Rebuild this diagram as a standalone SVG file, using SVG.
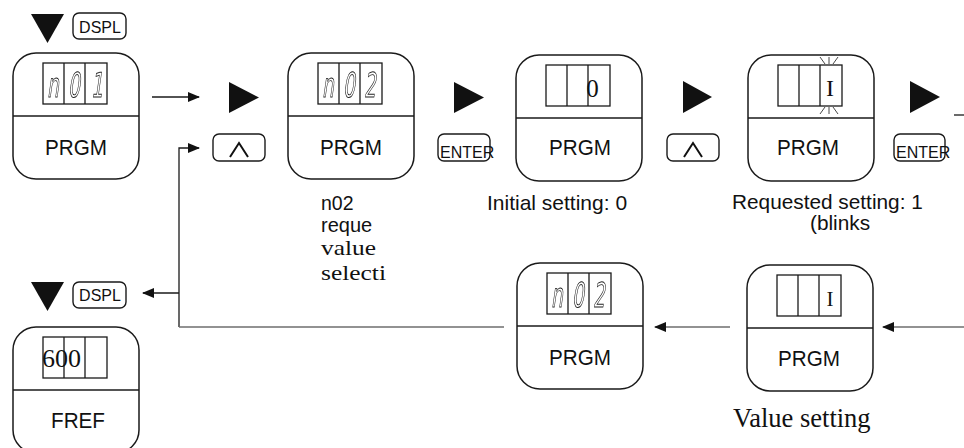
<svg xmlns="http://www.w3.org/2000/svg" width="964" height="448" viewBox="0 0 964 448">
  <style>
    .frame { fill: none; stroke: #1a1a1a; stroke-width: 1.5; }
    .disp { fill: none; stroke: #1a1a1a; stroke-width: 1.3; }
    .key { fill: #fff; stroke: #1a1a1a; stroke-width: 1.4; }
    .tri { fill: #111; }
    .sans { font-family: "Liberation Sans", Arial, sans-serif; fill: #111; }
    .serif { font-family: "Liberation Serif", "Times New Roman", serif; fill: #111; }
    .mode { font-size: 22px; text-anchor: middle; }
    .seg { font-family: "DejaVu Sans", sans-serif; font-size: 34px; fill: none; stroke: #1a1a1a; stroke-width: 0.9; text-anchor: middle; }
    .lcd { filter: url(#flat); }
    .keytxt { font-size: 16px; }
    .caret { fill: none; stroke: #111; stroke-width: 2; }
    .ray { stroke: #333; stroke-width: 0.9; }
    .conn { fill: none; stroke: #1a1a1a; stroke-width: 1.3; }
    .conn-g { fill: none; stroke: #6e6e6e; stroke-width: 1.5; }
  </style>
  <defs>
    <!-- render LCD digits in a plain greyscale layer -->
    <filter id="flat" x="0" y="0" width="1" height="1">
      <feOffset dx="0" dy="0"/>
    </filter>
    <marker id="ah" markerUnits="userSpaceOnUse" markerWidth="12" markerHeight="10" refX="11" refY="5" orient="auto">
      <path d="M0,0 L12,5 L0,10 z" fill="#111"/>
    </marker>
    <!-- operator panel body: frame, divider and 3-cell display -->
    <g id="panel">
      <rect class="frame" x="0" y="0" width="126" height="126" rx="23"/>
      <line class="frame" x1="0" y1="63" x2="126" y2="63"/>
      <rect class="disp" x="30" y="10" width="64" height="41"/>
      <line class="disp" x1="51" y1="10" x2="51" y2="51"/>
      <line class="disp" x1="72" y1="10" x2="72" y2="51"/>
    </g>
  </defs>

  <!-- key symbols -->
  <g id="keys">
    <polygon class="tri" points="31,14 64,14 47.5,43"/>
    <rect class="key" x="73" y="13" width="53" height="26" rx="6"/>
    <text class="sans keytxt" x="100" y="33" text-anchor="middle">DSPL</text>

    <polygon class="tri" points="229,82 259,97.5 229,113"/>
    <rect class="key" x="213" y="134" width="52" height="27" rx="6"/>
    <polyline class="caret" points="230,157 239,143 248,157"/>

    <polygon class="tri" points="454,82 484,97.5 454,113"/>
    <rect class="key" x="438" y="134" width="52" height="27" rx="6"/>
    <text class="sans keytxt" x="440" y="158">ENTER</text>

    <polygon class="tri" points="683,81 712,97 683,113"/>
    <rect class="key" x="667" y="134" width="52" height="27" rx="6"/>
    <polyline class="caret" points="684,157 693,143 702,157"/>

    <polygon class="tri" points="910,81 940,97 910,113"/>
    <rect class="key" x="894" y="134" width="51" height="27" rx="6"/>
    <text class="sans keytxt" x="896" y="158">ENTER</text>

    <polygon class="tri" points="31,282 64,282 47.5,311"/>
    <rect class="key" x="73" y="282" width="53" height="26" rx="6"/>
    <text class="sans keytxt" x="100" y="301" text-anchor="middle">DSPL</text>
  </g>

  <!-- n01 / PRGM -->
  <g id="node-n01" transform="translate(13,53)">
    <use href="#panel"/>
    <g class="lcd">
      <text class="seg" transform="translate(40,44) skewX(-8) scale(0.55,1)">n</text>
      <text class="seg" transform="translate(61,44) skewX(-8) scale(0.55,1)">0</text>
      <text class="seg" transform="translate(84,44) skewX(-8) scale(0.55,1)">1</text>
    </g>
    <text class="sans mode" x="63" y="102" textLength="62" lengthAdjust="spacingAndGlyphs">PRGM</text>
  </g>

  <!-- n02 / PRGM -->
  <g id="node-n02" transform="translate(288,53)">
    <use href="#panel"/>
    <g class="lcd">
      <text class="seg" transform="translate(40,44) skewX(-8) scale(0.55,1)">n</text>
      <text class="seg" transform="translate(61,44) skewX(-8) scale(0.55,1)">0</text>
      <text class="seg" transform="translate(82,44) skewX(-8) scale(0.55,1)">2</text>
    </g>
    <text class="sans mode" x="63" y="102" textLength="62" lengthAdjust="spacingAndGlyphs">PRGM</text>
  </g>

  <!-- initial value 0 -->
  <g id="node-initial" transform="translate(517,54)">
    <use href="#panel" transform="translate(-1,1)"/>
    <text class="serif" x="75.5" y="43" font-size="25" text-anchor="middle">0</text>
    <text class="sans mode" x="63" y="101" textLength="62" lengthAdjust="spacingAndGlyphs">PRGM</text>
  </g>

  <!-- requested value 1, blinking -->
  <g id="node-requested" transform="translate(745,53)">
    <use href="#panel" transform="translate(3,2)"/>
    <text class="serif" x="85" y="43" font-size="24" text-anchor="middle">I</text>
    <line class="ray" x1="75" y1="4" x2="80" y2="11"/>
    <line class="ray" x1="84" y1="4" x2="84" y2="11"/>
    <line class="ray" x1="93" y1="4" x2="88" y2="11"/>
    <line class="ray" x1="80" y1="54" x2="75" y2="61"/>
    <line class="ray" x1="84" y1="54" x2="84" y2="61"/>
    <line class="ray" x1="88" y1="54" x2="93" y2="61"/>
    <text class="sans mode" x="63" y="102" textLength="62" lengthAdjust="spacingAndGlyphs">PRGM</text>
  </g>

  <!-- value written: 1 / PRGM -->
  <g id="node-value" transform="translate(746,264)">
    <use href="#panel" transform="translate(1,1)"/>
    <text class="serif" x="84" y="42" font-size="21" text-anchor="middle">I</text>
    <text class="sans mode" x="63" y="102" textLength="62" lengthAdjust="spacingAndGlyphs">PRGM</text>
  </g>

  <!-- back to n02 / PRGM -->
  <g id="node-n02-return" transform="translate(517,263)">
    <use href="#panel"/>
    <g class="lcd">
      <text class="seg" transform="translate(40,44) skewX(-8) scale(0.55,1)">n</text>
      <text class="seg" transform="translate(61,44) skewX(-8) scale(0.55,1)">0</text>
      <text class="seg" transform="translate(82,44) skewX(-8) scale(0.55,1)">2</text>
    </g>
    <text class="sans mode" x="63" y="102" textLength="62" lengthAdjust="spacingAndGlyphs">PRGM</text>
  </g>

  <!-- frequency reference display -->
  <g id="node-fref" transform="translate(15,328)">
    <use href="#panel" transform="translate(-2,-1)"/>
    <text class="serif" x="27" y="39" font-size="26">600</text>
    <text class="sans mode" x="63" y="100" textLength="54" lengthAdjust="spacingAndGlyphs">FREF</text>
  </g>

  <!-- captions -->
  <g id="captions">
    <text class="sans" x="321" y="210" font-size="19.5">n02</text>
    <text class="sans" x="321" y="232" font-size="20">reque</text>
    <text class="serif" x="321" y="255" font-size="22" textLength="55" lengthAdjust="spacingAndGlyphs">value</text>
    <text class="serif" x="321" y="280" font-size="22" textLength="65" lengthAdjust="spacingAndGlyphs">selecti</text>
    <text class="sans" x="487" y="210" font-size="21">Initial setting: 0</text>
    <text class="sans" x="732" y="209" font-size="20.8">Requested setting: 1</text>
    <text class="sans" x="810" y="230" font-size="20.8">(blinks</text>
    <text class="serif" x="733" y="427" font-size="26.5">Value setting</text>
  </g>

  <!-- connectors -->
  <g id="connectors">
    <line class="conn" x1="152" y1="97" x2="199" y2="97" marker-end="url(#ah)"/>
    <line class="conn" x1="954" y1="115" x2="964" y2="115"/>
    <polyline class="conn" points="179,327 179,148 199,148" marker-end="url(#ah)"/>
    <line class="conn" x1="179" y1="293" x2="143" y2="293" marker-end="url(#ah)"/>
    <line class="conn-g" x1="179" y1="327" x2="504" y2="327"/>
    <line class="conn-g" x1="730" y1="327" x2="655" y2="327" marker-end="url(#ah)"/>
    <line class="conn-g" x1="964" y1="327" x2="883" y2="327" marker-end="url(#ah)"/>
  </g>
</svg>
